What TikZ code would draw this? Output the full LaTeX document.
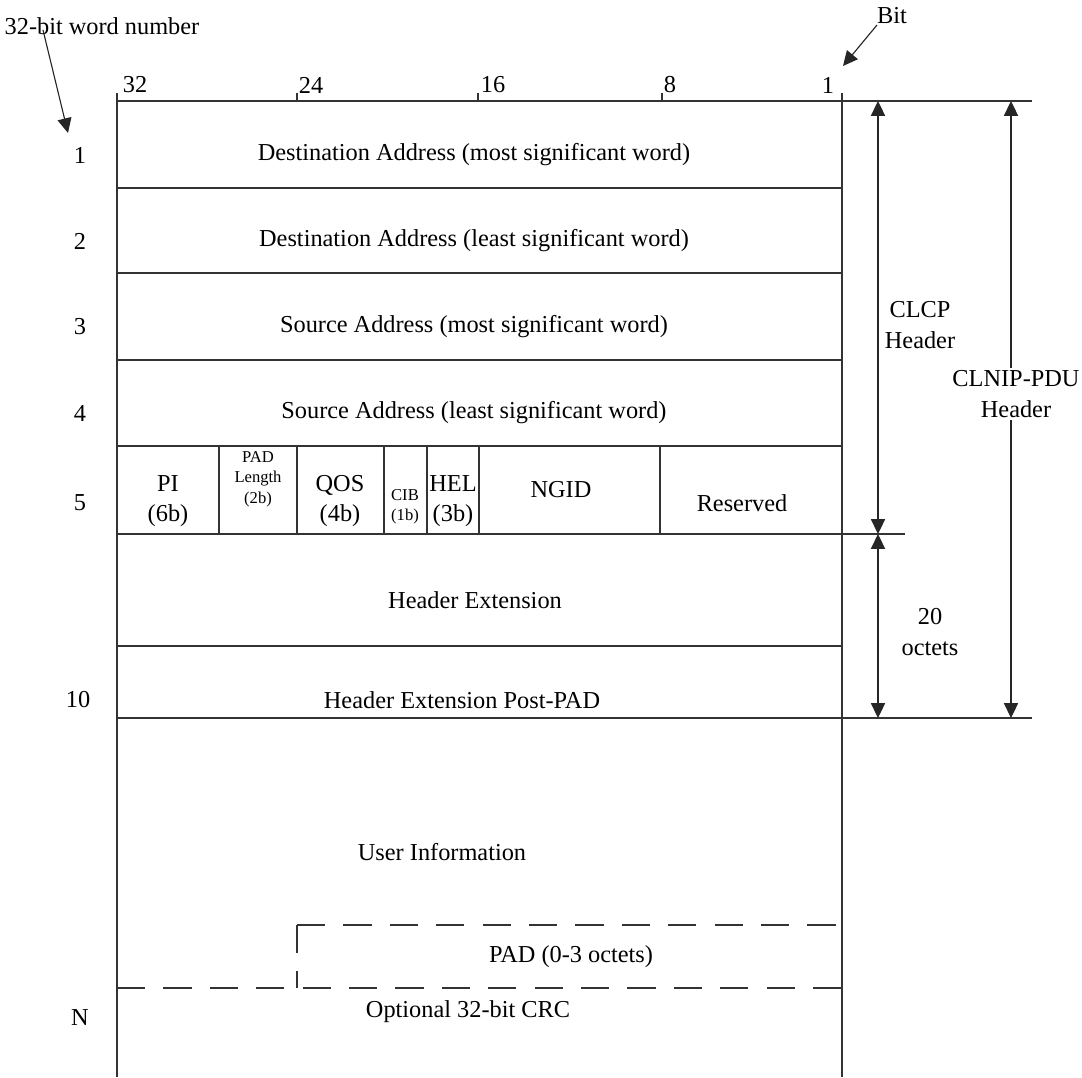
\documentclass[tikz,border=0pt]{standalone}
\usepackage{fontspec}
\setmainfont{Liberation Serif}
\usetikzlibrary{positioning,arrows.meta,calc}

\begin{document}
\begin{tikzpicture}[x=0.025cm,y=-0.025cm]

	\tikzstyle{fieldtxt}=[font=\fontsize{17.3}{21.5}\selectfont, align=center, inner sep=0];
	\tikzstyle{smalltxt}=[font=\fontsize{11.8}{14.5}\selectfont, align=center, inner sep=0];
	\tikzstyle{rowline}=[draw=black!80, line width=0.9pt];
	\tikzstyle{padline}=[draw=black!80, line width=0.9pt, dash pattern=on 20pt off 13pt];
	\useasboundingbox (0,0) rectangle (1082,1077);
    \begin{scope}[>={Triangle[length=10.5pt,width=10pt]}]

    	% bit numbers and the frame
    	\node (bit_32) at (135,85) [fieldtxt]{32};
    	\node (bit_24) at (311,85) [fieldtxt]{24};
    	\node (bit_16) at (493,85) [fieldtxt]{16};
    	\node (bit_8) at (670,85) [fieldtxt]{8};
    	\node (bit_1) at (828,85) [fieldtxt]{1};
    	\draw[rowline] (117,101) -- (1032,101);
    	\draw[rowline] (117,93) -- (117,1077);
    	\draw[rowline] (842,93) -- (842,1077);
    	\draw[rowline] (297,93) -- (297,101) (478,93) -- (478,101) (662,93) -- (662,101);
    	\draw[rowline] (117,188) -- (842,188) (117,273) -- (842,273) (117,360) -- (842,360) (117,446) -- (842,446);
    	\draw[rowline] (117,534) -- (905,534);
    	\draw[rowline, line width=1.6pt] (117,646) -- (842,646);
    	\draw[rowline] (117,718) -- (1032,718);
    	\foreach \xx in {219,297,384,427,479,660}
    		\draw[rowline] (\xx,446) -- (\xx,534);
    	\draw[padline] (297,925) -- (842,925);
    	\draw[padline] (297,925) -- (297,988);
    	\draw[padline] (117,988) -- (842,988);

    	% word numbers
    	\node (word_one) at (80,155) [fieldtxt]{1};
    	\node (word_two) at (80,241) [fieldtxt]{2};
    	\node (word_three) at (80,327) [fieldtxt]{3};
    	\node (word_four) at (80,413) [fieldtxt]{4};
    	\node (word_five) at (80,503) [fieldtxt]{5};
    	\node (word_ten) at (78,700) [fieldtxt]{10};
    	\node (word_n) at (80,1018) [fieldtxt]{N};

    	% fields
    	\node (dest_msw) at (474,155) [fieldtxt]{Destination Address (most significant word)};
    	\node (dest_lsw) at (474,241) [fieldtxt]{Destination Address (least significant word)};
    	\node (src_msw) at (474,327) [fieldtxt]{Source Address (most significant word)};
    	\node (src_lsw) at (474,413) [fieldtxt]{Source Address (least significant word)};
    	\node (pi_field) at (168,501) [fieldtxt]{PI\\(6b)};
    	\node (padlen_field) at (258,479) [smalltxt]{PAD\\Length\\(2b)};
    	\node (qos_field) at (340,501) [fieldtxt]{QOS\\(4b)};
    	\node (cib_field) at (405,507) [smalltxt]{CIB\\(1b)};
    	\node (hel_field) at (453,501) [fieldtxt]{HEL\\(3b)};
    	\node (ngid_field) at (561,490) [fieldtxt]{NGID};
    	\node (res_field) at (742,503) [fieldtxt]{Reserved};
    	\node (hdr_ext) at (475,600) [fieldtxt]{Header Extension};
    	\node (hdr_ext_pad) at (462,700) [fieldtxt]{Header Extension Post-PAD};
    	\node (user_info) at (442,852) [fieldtxt]{User Information};
    	\node (pad_field) at (571,957) [fieldtxt]{PAD (0-3 octets)};
    	\node (crc_field) at (468,1012) [fieldtxt]{Optional 32-bit CRC};

    	% pointers
    	\node (word_label) at (102,26) [fieldtxt]{32-bit word number};
    	\node (bit_label) at (892,16) [fieldtxt]{Bit};
    	\coordinate (word_from) at (43,30);
    	\coordinate (word_to) at (68,133);
    	\coordinate (bit_from) at (877,25);
    	\coordinate (bit_to) at (843,66);
    	\draw[->, black!85, line width=0.8pt] (word_from) -- (word_to);
    	\draw[->, black!85, line width=0.8pt] (bit_from) -- (bit_to);

    	% header lengths
    	\coordinate (clcp_top) at (878,101);
    	\coordinate (clcp_bot) at (878,534);
    	\coordinate (oct_bot) at (878,718);
    	\coordinate (pdu_top) at (1011,101);
    	\coordinate (pdu_bot) at (1011,718);
    	\draw[<->, black!85, line width=0.8pt] (clcp_top) -- (clcp_bot);
    	\draw[<->, black!85, line width=0.8pt] (clcp_bot) -- (oct_bot);
    	\draw[<->, black!85, line width=0.8pt] (pdu_top) -- (pdu_bot);
    	\node (clcp_label) at (920,325) [fieldtxt]{CLCP\\Header};
    	\node (octets_label) at (930,632) [fieldtxt]{20\\octets};
    	\node (pdu_label) at (1016,394) [fieldtxt, fill=white, inner sep=2pt]{CLNIP-PDU\\Header};

    \end{scope}
\end{tikzpicture}
\end{document}
